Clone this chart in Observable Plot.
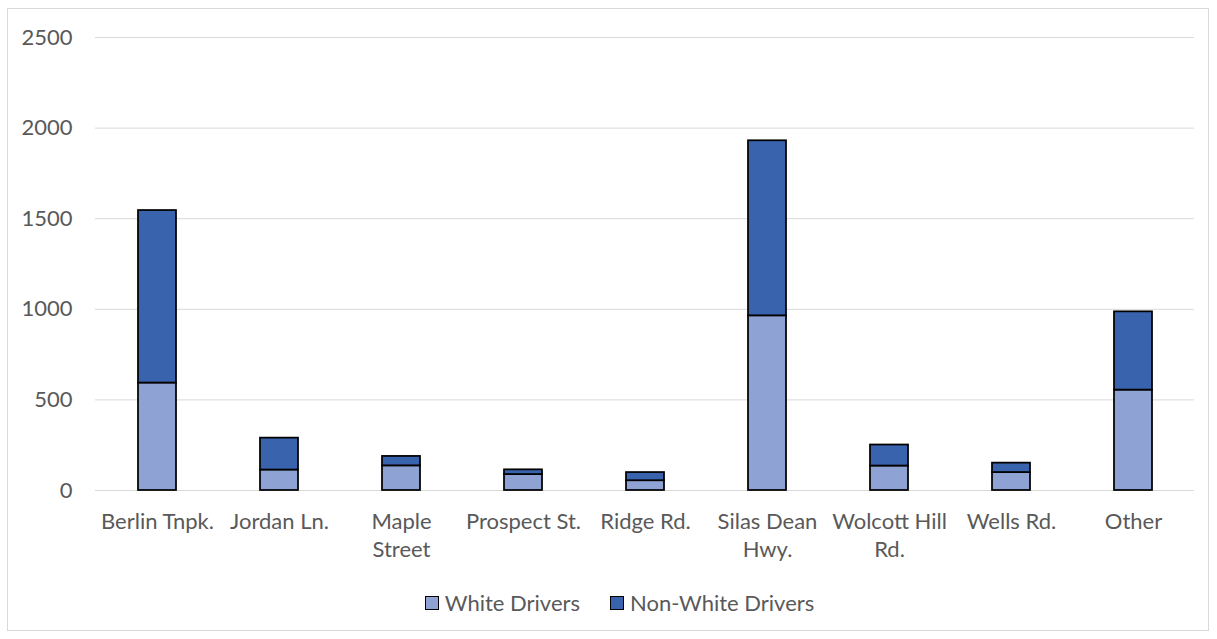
<!DOCTYPE html>
<html><head><meta charset="utf-8">
<script src="https://cdn.jsdelivr.net/npm/d3@7"></script>
<script src="https://cdn.jsdelivr.net/npm/@observablehq/plot@0.6"></script>
<style>
body{margin:0;background:#fff;font-family:Lato,sans-serif;}
#frame{position:absolute;left:7px;top:8px;width:1202px;height:623px;border:1px solid #d9d9d9;box-sizing:border-box;}
#chart{position:absolute;left:0;top:0;}
#legend{position:absolute;left:0;top:592px;width:1239px;height:22px;display:flex;justify-content:center;align-items:center;font-size:22px;color:#595959;line-height:22px;}
.item{display:flex;align-items:center;margin:0 15px;}
.sw{width:12px;height:12px;border:1px solid #000;margin-right:6px;}
</style>
</head><body>
<div id="frame"></div>
<div id="chart"></div>
<div id="legend"></div>
<script>
const streets = ["Berlin Tnpk.","Jordan Ln.","Maple Street","Prospect St.","Ridge Rd.","Silas Dean Hwy.","Wolcott Hill Rd.","Wells Rd.","Other"];
const tickLabels = ["Berlin Tnpk.","Jordan Ln.","Maple\nStreet","Prospect St.","Ridge Rd.","Silas Dean\nHwy.","Wolcott Hill\nRd.","Wells Rd.","Other"];
const whiteDrivers = [593,113,136,88,54,964,135,99,554];
const nonWhiteDrivers = [952,176,52,26,45,966,116,52,432];
const seriesNames = ["White Drivers","Non-White Drivers"];
const seriesColors = ["#8FA2D4","#3A63AD"];
const yTicks = [0,500,1000,1500,2000,2500];

const data = [];
streets.forEach((s,i)=>{
  data.push({street:s, series:seriesNames[0], value:whiteDrivers[i]});
  data.push({street:s, series:seriesNames[1], value:nonWhiteDrivers[i]});
});

const chart = Plot.plot({
  width:1217, height:590,
  marginLeft:95, marginRight:23, marginTop:37, marginBottom:100,
  style:{fontFamily:"Lato, sans-serif", fontSize:"22px", color:"#595959", background:"transparent"},
  x:{domain:streets, paddingInner:0.69, paddingOuter:0.345, label:null},
  y:{domain:[0,2500], label:null},
  color:{domain:seriesNames, range:seriesColors},
  marks:[
    Plot.gridY(yTicks,{stroke:"#d9d9d9", strokeOpacity:1, strokeWidth:1}),
    Plot.axisY(yTicks,{tickSize:0, tickPadding:23, label:null, tickFormat:d=>String(d)}),
    Plot.axisX({tickSize:0, tickPadding:18, label:null, lineHeight:1.3,
      tickFormat:d=>tickLabels[streets.indexOf(d)]}),
    Plot.barY(data,{x:"street", y:"value", fill:"series", stroke:"#000", strokeWidth:1.75})
  ]
});
document.getElementById("chart").appendChild(chart);

const legend = document.getElementById("legend");
seriesNames.forEach((n,i)=>{
  const it = document.createElement("div"); it.className="item";
  const sw = document.createElement("div"); sw.className="sw"; sw.style.background=seriesColors[i];
  const tx = document.createElement("span"); tx.textContent=n;
  it.appendChild(sw); it.appendChild(tx); legend.appendChild(it);
});
</script>
</body></html>
